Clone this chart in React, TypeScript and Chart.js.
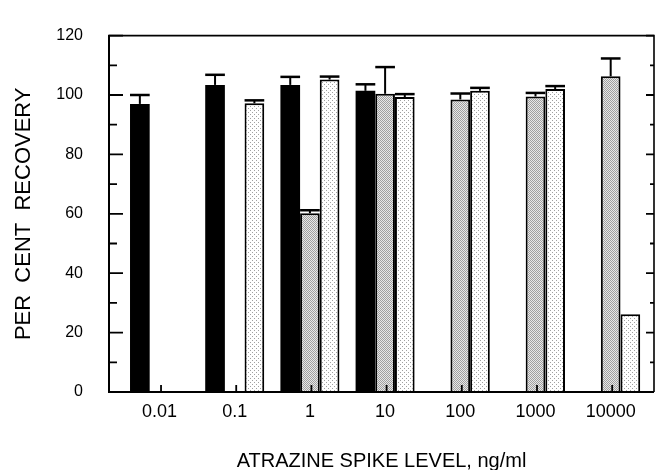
import React, { useEffect, useRef } from "react";
import { Chart, registerables } from "chart.js";

Chart.register(...registerables);

// ---- Data ----
const spikeLevels = ["0.01", "0.1", "1", "10", "100", "1000", "10000"];

const seriesBlack = [97, 103.4, 103.4, 101.4, null, null, null];
const seriesBlackErr = [3, 3.4, 2.7, 2.2, 0, 0, 0];

const seriesGrey = [null, null, 60.2, 100.4, 98.5, 99.5, 106.3];
const seriesGreyErr = [0, 0, 1, 9, 2, 1.2, 6];

const seriesLight = [null, 97.2, 105.2, 99.3, 101.4, 102, 26.2];
const seriesLightErr = [0, 1, 1, 1, 1, 1, 0];

const yTickValues = [0, 20, 40, 60, 80, 100, 120];
const yMinorValues = [10, 30, 50, 70, 90, 110];

const FONT = "'Liberation Sans', Arial, Helvetica, sans-serif";

function makePattern(kind: "grey" | "light"): CanvasPattern | string {
  const c = document.createElement("canvas");
  const ctx = c.getContext("2d");
  if (!ctx) return kind === "grey" ? "#c4c4c4" : "#eeeeee";
  if (kind === "grey") {
    c.width = 2;
    c.height = 2;
    ctx.fillStyle = "#e8e8e8";
    ctx.fillRect(0, 0, 2, 2);
    ctx.fillStyle = "#a0a0a0";
    ctx.fillRect(0, 0, 1, 1);
    ctx.fillRect(1, 1, 1, 1);
  } else {
    c.width = 4;
    c.height = 4;
    ctx.fillStyle = "#ffffff";
    ctx.fillRect(0, 0, 4, 4);
    ctx.fillStyle = "#a0a0a0";
    ctx.fillRect(0, 0, 1, 1);
    ctx.fillRect(2, 2, 1, 1);
  }
  const p = ctx.createPattern(c, "repeat");
  return p || (kind === "grey" ? "#c4c4c4" : "#eeeeee");
}

const errorsByDataset = [seriesBlackErr, seriesGreyErr, seriesLightErr];

const framePlugin = {
  id: "frameAndTicks",
  afterDatasetsDraw(chart: any) {
    const { ctx, chartArea, scales } = chart;
    const y = scales.y;
    const x = scales.x;
    ctx.save();
    ctx.strokeStyle = "#000";
    ctx.lineCap = "butt";
    // frame
    ctx.lineWidth = 2;
    ctx.beginPath();
    ctx.moveTo(chartArea.left, chartArea.top);
    ctx.lineTo(chartArea.left, chartArea.bottom);
    ctx.lineTo(chartArea.right, chartArea.bottom);
    ctx.stroke();
    ctx.lineWidth = 1.6;
    ctx.beginPath();
    ctx.moveTo(chartArea.left - 1, chartArea.top);
    ctx.lineTo(chartArea.right, chartArea.top);
    ctx.lineTo(chartArea.right, chartArea.bottom);
    ctx.stroke();
    // ticks (inward)
    ctx.lineWidth = 1.8;
    ctx.beginPath();
    yTickValues.forEach((v) => {
      const py = y.getPixelForValue(v);
      ctx.moveTo(chartArea.left, py);
      ctx.lineTo(chartArea.left + 14, py);
      ctx.moveTo(chartArea.right, py);
      ctx.lineTo(chartArea.right - 8, py);
    });
    yMinorValues.forEach((v) => {
      const py = y.getPixelForValue(v);
      ctx.moveTo(chartArea.left, py);
      ctx.lineTo(chartArea.left + 8, py);
      ctx.moveTo(chartArea.right, py);
      ctx.lineTo(chartArea.right - 4, py);
    });
    spikeLevels.forEach((_, i) => {
      const px = x.getPixelForValue(i) + 1.5;
      ctx.moveTo(px, chartArea.bottom);
      ctx.lineTo(px, chartArea.bottom - 7);
    });
    ctx.stroke();

    // error bars (upper only)
    chart.data.datasets.forEach((ds: any, di: number) => {
      const meta = chart.getDatasetMeta(di);
      const errs = errorsByDataset[di];
      meta.data.forEach((el: any, j: number) => {
        const raw = ds.data[j];
        if (!raw || raw.y == null) return;
        const e = errs[j];
        if (!e) return;
        const topPx = y.getPixelForValue(raw.y + e);
        const w = el.width;
        ctx.lineWidth = 2;
        ctx.beginPath();
        ctx.moveTo(el.x, el.y);
        ctx.lineTo(el.x, topPx);
        ctx.stroke();
        ctx.lineWidth = 2.5;
        ctx.beginPath();
        ctx.moveTo(el.x - w / 2, topPx);
        ctx.lineTo(el.x + w / 2, topPx);
        ctx.stroke();
      });
    });
    ctx.restore();
  },
};

export default function App() {
  const ref = useRef<HTMLCanvasElement | null>(null);

  useEffect(() => {
    if (!ref.current) return;
    const greyPattern = makePattern("grey");
    const lightPattern = makePattern("light");
    const toPoints = (arr: (number | null)[]) => arr.map((v, i) => ({ x: i, y: v }));

    const chart = new Chart(ref.current, {
      type: "bar",
      data: {
        datasets: [
          {
            label: "A",
            data: toPoints(seriesBlack) as any,
            backgroundColor: "#000000",
            borderWidth: 0,
          },
          {
            label: "B",
            data: toPoints(seriesGrey) as any,
            backgroundColor: greyPattern as any,
            borderColor: "#000000",
            borderWidth: 2,
          },
          {
            label: "C",
            data: toPoints(seriesLight) as any,
            backgroundColor: lightPattern as any,
            borderColor: "#000000",
            borderWidth: 2,
          },
        ],
      },
      options: {
        animation: false,
        responsive: false,
        maintainAspectRatio: false,
        categoryPercentage: 0.785,
        barPercentage: 1,
        layout: { padding: { top: 19, right: 1, left: 0, bottom: 0 } },
        plugins: {
          legend: { display: false },
          tooltip: { enabled: false },
        },
        scales: {
          x: {
            type: "linear",
            min: -0.672,
            max: 6.576,
            offset: false,
            grid: { display: false, drawTicks: false },
            border: { display: false },
            ticks: {
              stepSize: 1,
              includeBounds: false,
              autoSkip: false,
              maxRotation: 0,
              padding: 9,
              color: "#000",
              font: { size: 18, family: FONT },
              callback: (v: any) =>
                Number.isInteger(v) && spikeLevels[v] !== undefined ? spikeLevels[v] : "",
            },
            title: {
              display: true,
              text: "ATRAZINE SPIKE LEVEL, ng/ml",
              color: "#000",
              font: { size: 20, family: FONT, lineHeight: 1 },
              padding: { top: 0, bottom: -1 },
            },
            afterFit: (s: any) => {
              s.height = 78;
            },
          } as any,
          y: {
            min: 0,
            max: 120,
            grid: { display: false, drawTicks: false },
            border: { display: false },
            ticks: {
              stepSize: 10,
              padding: 26,
              color: "#000",
              font: { size: 16, family: FONT },
              callback: (v: any) => (Number(v) % 20 === 0 ? String(v) : ""),
            },
            title: {
              display: true,
              text: "PER  CENT  RECOVERY",
              color: "#000",
              font: { size: 22, family: FONT, lineHeight: 1.2 },
              padding: { top: 11, bottom: 0 },
            },
            afterFit: (s: any) => {
              s.width = 109;
            },
          } as any,
        },
      },
      plugins: [framePlugin],
    });
    return () => chart.destroy();
  }, []);

  return (
    <div style={{ position: "absolute", left: 0, top: 0, width: 655, height: 470, background: "#fff" }}>
      <canvas ref={ref} width={655} height={470} style={{ display: "block" }} />
    </div>
  );
}
